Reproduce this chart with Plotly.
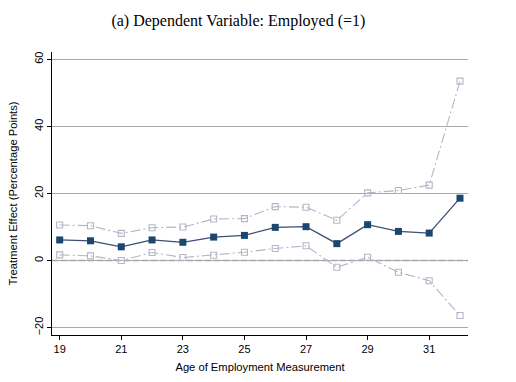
import plotly.graph_objects as go

ages = list(range(19, 33))
estimate = [6.15, 5.9, 4.1, 6.15, 5.45, 7.0, 7.5, 9.9, 10.1, 5.05, 10.7, 8.7, 8.2, 18.6]
upper_ci = [10.6, 10.4, 8.1, 9.8, 10.0, 12.4, 12.5, 16.1, 15.9, 12.0, 20.2, 20.9, 22.5, 53.5]
lower_ci = [1.7, 1.4, 0.0, 2.4, 0.9, 1.6, 2.5, 3.6, 4.4, -2.0, 1.0, -3.5, -6.0, -16.4]
x_ticks = [19, 21, 23, 25, 27, 29, 31]
y_ticks = [-20, 0, 20, 40, 60]

ci_color = "#b4b6c8"
ci_style = dict(color=ci_color, width=1.1, dash="10px,3px,2px,3px")
ci_marker = dict(symbol="square-open", size=6, color=ci_color, line=dict(width=1.1, color=ci_color))

fig = go.Figure()
fig.add_trace(go.Scatter(x=ages, y=upper_ci, mode="lines+markers", line=ci_style, marker=ci_marker, showlegend=False))
fig.add_trace(go.Scatter(x=ages, y=lower_ci, mode="lines+markers", line=ci_style, marker=ci_marker, showlegend=False))
fig.add_trace(go.Scatter(x=ages, y=estimate, mode="lines+markers",
                         line=dict(color="#3d4f72", width=1.3),
                         marker=dict(symbol="square", size=7, color="#1a476f", line=dict(width=0)),
                         showlegend=False))

fig.add_shape(type="line", xref="paper", x0=0, x1=1, yref="y", y0=0, y1=0,
              line=dict(color="#a0a0a0", width=1.6, dash="6px,3px"), layer="below")

fig.update_layout(
    width=516, height=382,
    margin=dict(l=52, r=48, t=52, b=47),
    paper_bgcolor="white", plot_bgcolor="white",
    font=dict(family="Liberation Sans, Arial, sans-serif", size=11, color="black"),
    title=dict(text="(a) Dependent Variable: Employed (=1)",
               font=dict(family="Liberation Serif, Times New Roman, serif", size=16, color="black"),
               x=0.462, xanchor="center", y=0.947, yanchor="middle"),
    xaxis=dict(range=[18.75, 32.26], tickvals=x_ticks, showgrid=False, zeroline=False,
               showline=True, linecolor="black", linewidth=1, ticks="outside", ticklen=4,
               tickcolor="black", automargin=False,
               title=dict(text="Age of Employment Measurement", standoff=8, font=dict(size=11.2)),
               tickfont=dict(size=11)),
    yaxis=dict(range=[-22.2, 62.2], tickvals=y_ticks, showgrid=True, gridcolor="#a8a8a8", gridwidth=1.3,
               zeroline=False, showline=True, linecolor="black", linewidth=1, ticks="outside",
               ticklen=4, tickcolor="black", tickangle=-90, automargin=False,
               title=dict(text="Treatment Effect (Percentage Points)", standoff=12, font=dict(size=11.2)),
               tickfont=dict(size=11)),
)

fig.write_html("out.html", config={"displayModeBar": False},
               post_script="document.body.style.margin='0';")
